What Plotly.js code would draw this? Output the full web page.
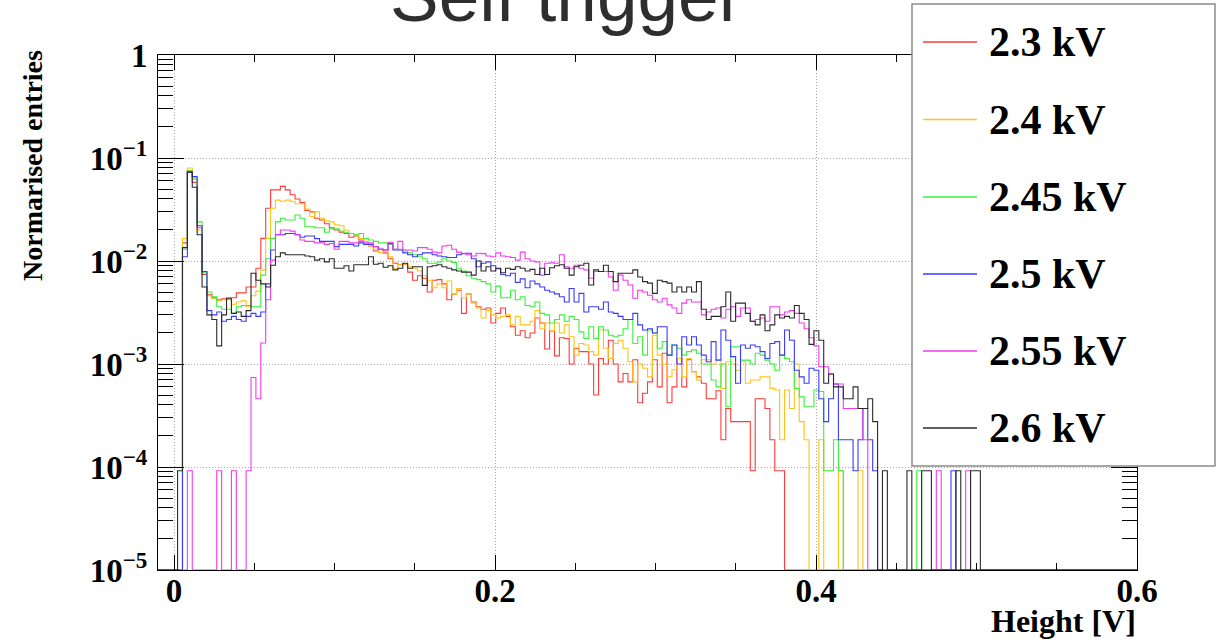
<!DOCTYPE html>
<html>
<head>
<meta charset="utf-8">
<script src="https://cdn.plot.ly/plotly-3.0.1.min.js"></script>
<style>
  html, body { margin: 0; padding: 0; background: #fff; }
  #chart { width: 1217px; height: 642px; }
</style>
</head>
<body>
<div id="chart"></div>
<script>
// Histogram binning: 200 equal bins from -0.01 V to 0.6 V
const histLow = -0.01;
const histHigh = 0.6;
const nBins = 200;
// The arrays below hold normalised bin contents starting at this bin; other bins are empty
const firstBin = 4;

const seriesNames = ['2.3 kV', '2.4 kV', '2.45 kV', '2.5 kV', '2.55 kV', '2.6 kV'];

const h2p3 = [
  0, 1.5e-2, 7.5e-2, 5.8e-2, 2.1e-2, 7.4e-3, 4.7e-3, 4.4e-3, 4.2e-3, 4.3e-3,
  4.4e-3, 4.4e-3, 4.9e-3, 4.9e-3, 5.6e-3, 5.6e-3, 8.5e-3, 1.66e-2, 3.25e-2, 4.9e-2,
  4.9e-2, 5.3e-2, 4.9e-2, 4.4e-2, 4.0e-2, 3.7e-2, 3.1e-2, 3.0e-2, 2.6e-2, 2.5e-2,
  2.3e-2, 2.1e-2, 2.0e-2, 1.9e-2, 1.85e-2, 1.7e-2, 1.75e-2, 1.6e-2, 1.45e-2, 1.4e-2,
  1.25e-2, 1.3e-2, 1.2e-2, 1.05e-2, 9.5e-3, 9.2e-3, 9.3e-3, 7.8e-3, 6.5e-3, 7.2e-3,
  6.8e-3, 5.0e-3, 6.5e-3, 6.6e-3, 6.0e-3, 4.2e-3, 4.8e-3, 5.2e-3, 3.1e-3, 4.8e-3,
  4.0e-3, 3.6e-3, 3.4e-3, 3.5e-3, 2.5e-3, 3.1e-3, 3.5e-3, 2.9e-3, 2.3e-3, 1.9e-3,
  2.1e-3, 1.8e-3, 2.0e-3, 2.8e-3, 2.5e-3, 1.4e-3, 2.1e-3, 1.2e-3, 1.8e-3, 1.77e-3,
  1.0e-3, 1.42e-3, 1.32e-3, 1.32e-3, 1.0e-3, 5.0e-4, 1.13e-3, 1.0e-3, 1.7e-3, 1.0e-3,
  6.7e-4, 8.1e-4, 6.7e-4, 1.1e-3, 4.2e-4, 5.2e-4, 6.7e-4, 1.1e-3, 6.0e-4, 1.27e-3,
  4.2e-4, 6.0e-4, 1.13e-3, 6.0e-4, 1.1e-3, 8.4e-4, 7.5e-4, 6.5e-4, 4.6e-4, 4.6e-4,
  5.5e-4, 1.84e-4, 3.7e-4, 2.76e-4, 2.76e-4, 2.76e-4, 2.76e-4, 9.2e-5, 4.6e-4, 4.6e-4,
  3.7e-4, 1.84e-4, 9.2e-5, 9.2e-5
];

const h2p4 = [
  0, 1.65e-2, 8.0e-2, 6.2e-2, 2.0e-2, 7.6e-3, 4.6e-3, 4.3e-3, 4.1e-3, 4.2e-3,
  4.2e-3, 3.8e-3, 4.0e-3, 4.1e-3, 3.6e-3, 4.6e-3, 5.1e-3, 8.2e-3, 1.66e-2, 3.25e-2,
  3.9e-2, 3.8e-2, 3.9e-2, 3.8e-2, 3.6e-2, 3.6e-2, 3.2e-2, 2.7e-2, 3.0e-2, 2.6e-2,
  2.45e-2, 2.4e-2, 2.25e-2, 2.2e-2, 2.0e-2, 1.85e-2, 1.8e-2, 1.65e-2, 1.55e-2, 1.4e-2,
  1.3e-2, 1.2e-2, 1.25e-2, 1.1e-2, 8.5e-3, 9.3e-3, 9.3e-3, 8.8e-3, 8.5e-3, 8.0e-3,
  7.2e-3, 6.5e-3, 5.5e-3, 6.0e-3, 5.5e-3, 6.4e-3, 4.8e-3, 5.4e-3, 4.4e-3, 4.8e-3,
  3.9e-3, 3.5e-3, 2.8e-3, 3.3e-3, 3.0e-3, 2.8e-3, 2.9e-3, 3.0e-3, 2.4e-3, 2.9e-3,
  2.4e-3, 2.4e-3, 2.6e-3, 3.3e-3, 2.2e-3, 2.5e-3, 2.1e-3, 2.5e-3, 2.0e-3, 2.4e-3,
  1.84e-3, 1.22e-3, 1.58e-3, 1.53e-3, 1.32e-3, 1.22e-3, 2.14e-3, 1.42e-3, 1.13e-3, 1.58e-3,
  1.7e-3, 1.42e-3, 1.05e-3, 6.7e-4, 1.0e-3, 9.1e-4, 7.5e-4, 1.9e-3, 1.22e-3, 1.0e-3,
  7.5e-4, 8.8e-4, 1.13e-3, 7.5e-4, 1.13e-3, 8.4e-4, 7.0e-4, 1.1e-3, 1.1e-3, 1.0e-3,
  1.1e-3, 5.8e-4, 1.05e-3, 1.0e-3, 8.7e-4, 1.05e-3, 6.5e-4, 7.0e-4, 7.0e-4, 7.5e-4,
  7.5e-4, 5.8e-4, 5.6e-4, 1.84e-4, 5.6e-4, 3.7e-4, 1.0e-3, 2.76e-4, 1.84e-4, 0,
  0, 1.84e-4, 0, 0, 0, 9.2e-5, 0, 0, 0, 9.2e-5
];

const h2p45 = [
  0, 1.3e-2, 7.5e-2, 6.4e-2, 2.4e-2, 7.8e-3, 5.0e-3, 4.5e-3, 3.6e-3, 3.4e-3,
  3.4e-3, 3.1e-3, 3.6e-3, 3.7e-3, 3.7e-3, 3.6e-3, 3.6e-3, 7.3e-3, 1.05e-2, 1.66e-2,
  2.4e-2, 2.6e-2, 2.5e-2, 2.5e-2, 2.8e-2, 2.6e-2, 2.15e-2, 2.15e-2, 2.1e-2, 2.1e-2,
  1.9e-2, 2.05e-2, 2.05e-2, 1.95e-2, 1.9e-2, 1.85e-2, 1.8e-2, 1.85e-2, 1.65e-2, 1.6e-2,
  1.55e-2, 1.5e-2, 1.5e-2, 1.45e-2, 1.3e-2, 1.3e-2, 1.25e-2, 1.2e-2, 1.15e-2, 1.1e-2,
  1.05e-2, 9.5e-3, 9.5e-3, 9.8e-3, 1.05e-2, 1.0e-2, 9.7e-3, 8.5e-3, 8.0e-3, 7.2e-3,
  6.8e-3, 6.6e-3, 6.3e-3, 6.0e-3, 5.0e-3, 5.7e-3, 4.4e-3, 4.4e-3, 5.2e-3, 4.2e-3,
  4.5e-3, 3.7e-3, 3.6e-3, 4.0e-3, 3.1e-3, 3.0e-3, 2.5e-3, 2.7e-3, 3.0e-3, 2.6e-3,
  2.9e-3, 2.7e-3, 2.05e-3, 1.77e-3, 2.3e-3, 1.77e-3, 2.3e-3, 2.14e-3, 1.9e-3, 1.84e-3,
  1.9e-3, 2.2e-3, 2.7e-3, 1.58e-3, 1.84e-3, 1.22e-3, 2.14e-3, 2.0e-3, 1.42e-3, 1.65e-3,
  1.22e-3, 1.53e-3, 1.42e-3, 1.22e-3, 1.32e-3, 1.37e-3, 1.27e-3, 1.0e-3, 1.0e-3, 7.0e-4,
  6.0e-4, 1.0e-3, 3.85e-4, 1.47e-3, 1.47e-3, 1.09e-3, 1.09e-3, 1.0e-3, 1.27e-3, 1.22e-3,
  1.09e-3, 1.0e-3, 8.7e-4, 1.22e-3, 1.13e-3, 1.05e-3, 5.8e-4, 4.8e-4, 3.85e-4, 3.85e-4,
  5.6e-4, 5.4e-4, 9.2e-5, 9.2e-5, 1.84e-4, 9.2e-5, 0, 0, 0, 0,
  0, 0, 0, 0, 0, 0, 0, 0, 0, 0,
  0, 9.2e-5
];

const h2p5 = [
  0, 1.1e-2, 7.3e-2, 6.6e-2, 2.2e-2, 7.9e-3, 3.3e-3, 3.0e-3, 3.2e-3, 2.6e-3,
  2.7e-3, 2.9e-3, 2.7e-3, 2.6e-3, 2.9e-3, 3.1e-3, 2.9e-3, 3.2e-3, 6.0e-3, 1.28e-2,
  1.8e-2, 1.8e-2, 1.85e-2, 1.85e-2, 1.8e-2, 1.7e-2, 1.75e-2, 1.75e-2, 1.65e-2, 1.55e-2,
  1.55e-2, 1.55e-2, 1.38e-2, 1.45e-2, 1.45e-2, 1.45e-2, 1.4e-2, 1.5e-2, 1.45e-2, 1.45e-2,
  1.38e-2, 1.3e-2, 1.28e-2, 1.48e-2, 1.28e-2, 1.28e-2, 1.2e-2, 1.15e-2, 1.1e-2, 1.15e-2,
  1.2e-2, 1.2e-2, 1.15e-2, 1.12e-2, 1.1e-2, 1.08e-2, 1.08e-2, 1.15e-2, 1.18e-2, 1.19e-2,
  1.05e-2, 8.8e-3, 9.5e-3, 9.8e-3, 9.0e-3, 8.4e-3, 7.4e-3, 7.2e-3, 7.6e-3, 6.2e-3,
  6.7e-3, 5.5e-3, 6.4e-3, 6.0e-3, 5.6e-3, 5.2e-3, 5.0e-3, 4.8e-3, 4.5e-3, 4.0e-3,
  5.4e-3, 4.0e-3, 4.85e-3, 3.2e-3, 3.6e-3, 3.6e-3, 3.4e-3, 4.0e-3, 3.2e-3, 3.1e-3,
  2.9e-3, 2.7e-3, 2.7e-3, 3.1e-3, 2.4e-3, 2.14e-3, 2.2e-3, 2.0e-3, 2.3e-3, 2.3e-3,
  1.22e-3, 1.53e-3, 1.0e-3, 1.84e-3, 1.53e-3, 1.84e-3, 1.53e-3, 1.22e-3, 1.05e-3, 1.65e-3,
  1.09e-3, 2.14e-3, 1.7e-3, 1.18e-3, 6.5e-4, 1.53e-3, 1.42e-3, 1.53e-3, 1.47e-3, 1.32e-3,
  1.13e-3, 1.58e-3, 1.65e-3, 1.22e-3, 2.14e-3, 1.7e-3, 8.7e-4, 7.5e-4, 6.5e-4, 9.1e-4,
  8.7e-4, 4.6e-4, 2.76e-4, 4.6e-4, 6.4e-4, 1.84e-4, 1.84e-4, 1.84e-4, 9.2e-5, 1.84e-4,
  3.7e-4, 1.84e-4, 9.2e-5, 0, 0, 0, 0, 0, 0, 0,
  0, 0, 0, 0, 0, 0, 0, 0, 9.2e-5
];

const h2p55 = [
  0, 0, 9.2e-5, 0, 0, 0, 0, 0, 9.2e-5, 0,
  0, 9.2e-5, 0, 0, 9.2e-5, 7.4e-4, 4.6e-4, 1.6e-3, 4.2e-3, 1.02e-2,
  1.8e-2, 2.0e-2, 2.0e-2, 1.95e-2, 1.8e-2, 1.6e-2, 1.55e-2, 1.55e-2, 1.5e-2, 1.5e-2,
  1.45e-2, 1.48e-2, 1.3e-2, 1.55e-2, 1.55e-2, 1.5e-2, 1.5e-2, 1.55e-2, 1.5e-2, 1.5e-2,
  1.38e-2, 1.3e-2, 1.28e-2, 1.52e-2, 1.3e-2, 1.55e-2, 1.28e-2, 1.28e-2, 1.25e-2, 1.35e-2,
  1.35e-2, 1.3e-2, 1.22e-2, 1.2e-2, 1.4e-2, 1.42e-2, 1.3e-2, 1.22e-2, 1.19e-2, 1.15e-2,
  1.12e-2, 1.19e-2, 1.18e-2, 1.12e-2, 1.1e-2, 1.2e-2, 1.12e-2, 1.1e-2, 1.08e-2, 1.02e-2,
  1.22e-2, 1.05e-2, 1.0e-2, 9.8e-3, 7.3e-3, 9.5e-3, 9.6e-3, 9.5e-3, 1.15e-2, 8.8e-3,
  8.5e-3, 9.1e-3, 8.5e-3, 8.2e-3, 6.8e-3, 7.9e-3, 7.9e-3, 7.9e-3, 7.0e-3, 5.2e-3,
  7.3e-3, 6.5e-3, 5.85e-3, 4.35e-3, 5.2e-3, 5.0e-3, 4.65e-3, 4.2e-3, 4.0e-3, 4.35e-3,
  3.75e-3, 3.5e-3, 3.1e-3, 3.9e-3, 4.2e-3, 4.0e-3, 4.0e-3, 3.0e-3, 3.2e-3, 3.4e-3,
  3.5e-3, 2.8e-3, 3.4e-3, 3.6e-3, 2.9e-3, 3.5e-3, 3.5e-3, 2.6e-3, 2.7e-3, 2.8e-3,
  2.6e-3, 3.6e-3, 3.6e-3, 3.0e-3, 3.2e-3, 3.3e-3, 3.1e-3, 2.5e-3, 2.2e-3, 1.8e-3,
  1.5e-3, 9.4e-4, 9.4e-4, 8.0e-4, 6.4e-4, 6.4e-4, 3.7e-4, 3.7e-4, 3.7e-4, 3.7e-4,
  1.84e-4, 0, 0, 0, 0, 0, 0, 0, 0, 0,
  0, 0, 0, 0, 0, 9.2e-5, 0, 0, 0, 0,
  0, 9.2e-5
];

const h2p6 = [
  9.2e-5, 1.35e-2, 7.3e-2, 5.2e-2, 1.8e-2, 5.6e-3, 3.0e-3, 2.7e-3, 1.5e-3, 3.0e-3,
  4.3e-3, 3.1e-3, 3.2e-3, 2.9e-3, 3.3e-3, 7.6e-3, 6.5e-3, 6.0e-3, 5.6e-3, 9.1e-3,
  1.1e-2, 1.2e-2, 1.15e-2, 1.15e-2, 1.15e-2, 1.15e-2, 1.12e-2, 1.1e-2, 1.02e-2, 1.05e-2,
  9.8e-3, 1.05e-2, 8.5e-3, 8.5e-3, 9.0e-3, 8.0e-3, 9.2e-3, 9.2e-3, 9.2e-3, 1.1e-2,
  9.3e-3, 9.5e-3, 8.7e-3, 9.0e-3, 8.2e-3, 8.5e-3, 9.5e-3, 8.5e-3, 8.8e-3, 8.8e-3,
  5.8e-3, 8.8e-3, 9.0e-3, 9.2e-3, 8.8e-3, 8.5e-3, 8.2e-3, 8.0e-3, 7.8e-3, 7.8e-3,
  7.3e-3, 1.0e-2, 8.0e-3, 8.8e-3, 8.0e-3, 8.5e-3, 7.7e-3, 8.5e-3, 8.3e-3, 8.8e-3,
  8.5e-3, 8.0e-3, 8.3e-3, 7.4e-3, 8.5e-3, 7.4e-3, 8.6e-3, 9.0e-3, 9.2e-3, 8.5e-3,
  7.3e-3, 8.8e-3, 9.1e-3, 9.5e-3, 5.85e-3, 8.2e-3, 7.9e-3, 9.1e-3, 7.9e-3, 6.3e-3,
  7.6e-3, 7.6e-3, 7.6e-3, 8.2e-3, 7.0e-3, 6.3e-3, 6.1e-3, 4.85e-3, 6.5e-3, 6.3e-3,
  6.1e-3, 5.0e-3, 5.6e-3, 5.0e-3, 5.6e-3, 5.0e-3, 6.3e-3, 3.4e-3, 2.7e-3, 2.9e-3,
  2.9e-3, 3.6e-3, 5.0e-3, 2.6e-3, 3.9e-3, 3.9e-3, 3.1e-3, 2.6e-3, 2.4e-3, 3.0e-3,
  2.1e-3, 2.4e-3, 3.0e-3, 2.8e-3, 2.9e-3, 2.8e-3, 3.7e-3, 3.1e-3, 2.7e-3, 1.55e-3,
  2.1e-3, 1.7e-3, 6.5e-4, 8.0e-4, 6.0e-4, 6.0e-4, 4.6e-4, 4.6e-4, 6.0e-4, 3.7e-4,
  3.7e-4, 4.6e-4, 2.76e-4, 0, 9.2e-5, 0, 0, 0, 0, 9.2e-5,
  0, 0, 9.2e-5, 9.2e-5, 0, 0, 0, 0, 0, 9.2e-5,
  0, 0, 9.2e-5, 9.2e-5
];

const seriesValues = [h2p3, h2p4, h2p45, h2p5, h2p55, h2p6];
const seriesColors = ['#ff3b3b', '#ffc31a', '#3cf03c', '#3b3bff', '#f03cf0', '#2a2a2a'];

// Axis
const yMin = 1e-5, yMax = 1;
const xTicks = [0, 0.2, 0.4, 0.6];
const xTickText = ['0', '0.2', '0.4', '0.6'];
const yTicks = [1e-5, 1e-4, 1e-3, 1e-2, 1e-1, 1];
const yTickText = ['10<sup>\u22125</sup>', '10<sup>\u22124</sup>', '10<sup>\u22123</sup>',
                   '10<sup>\u22122</sup>', '10<sup>\u22121</sup>', '1'];

// Frame geometry in page pixels
const W = 1217, H = 642;
const FL = 158, FR = 1137, FT = 55, FB = 570;
const pxX = v => (v - FL) / (FR - FL);
const pxY = v => (FB - v) / (FB - FT);

const serif = 'Liberation Serif, Times New Roman, serif';

// Step outline in ROOT style: empty bins sit on the bottom of the frame
function stepTrace(values, color) {
  const w = (histHigh - histLow) / nBins;
  const x = [], y = [];
  for (let b = 0; b < nBins; b++) {
    const i = b - firstBin;
    const v = (i >= 0 && i < values.length) ? values[i] : 0;
    x.push(histLow + b * w);
    y.push(v > 0 ? v : yMin);
  }
  x.push(histHigh);
  y.push(y[y.length - 1]);
  return {
    type: 'scatter', mode: 'lines', x: x, y: y,
    line: { color: color, width: 1.1, shape: 'hv' },
    hoverinfo: 'skip', showlegend: false
  };
}

const traces = seriesValues.map((v, i) => stepTrace(v, seriesColors[i]));

// Log-axis minor ticks at 2..9 of every decade
const yMinor = [];
for (let e = -5; e < 0; e++) for (let k = 2; k <= 9; k++) yMinor.push(k * Math.pow(10, e));

// Legend box drawn on top of the frame
const legendRows = [42, 119.5, 197, 274, 351, 428];
const shapes = [{
  type: 'rect', xref: 'paper', yref: 'paper', layer: 'above',
  x0: pxX(912), x1: pxX(1215), y0: pxY(466), y1: pxY(4),
  line: { color: '#8c8c8c', width: 1.5 }, fillcolor: '#ffffff'
}];
const annotations = [];
seriesNames.forEach((name, i) => {
  shapes.push({
    type: 'line', xref: 'paper', yref: 'paper', layer: 'above',
    x0: pxX(923), x1: pxX(977), y0: pxY(legendRows[i]), y1: pxY(legendRows[i]),
    line: { color: seriesColors[i], width: 1.3 }
  });
  annotations.push({
    xref: 'paper', yref: 'paper', x: pxX(987), y: pxY(legendRows[i]),
    xanchor: 'left', yanchor: 'middle', showarrow: false, text: name,
    font: { family: serif, size: 42, weight: 'bold', color: '#000' }
  });
});

// Title, partly above the page edge
annotations.push({
  xref: 'paper', yref: 'paper', x: pxX(566), y: pxY(38), xanchor: 'center', yanchor: 'bottom',
  showarrow: false, text: 'Self trigger',
  font: { family: 'Liberation Sans, Arial, sans-serif', size: 73, color: '#2e2e2e' }
});
// Axis titles, aligned to the axis ends
annotations.push({
  xref: 'paper', yref: 'paper', x: pxX(32), y: pxY(166), xanchor: 'center', yanchor: 'middle',
  textangle: -90, showarrow: false, text: 'Normarised entries',
  font: { family: serif, size: 28, weight: 'bold', color: '#000' }
});
annotations.push({
  xref: 'paper', yref: 'paper', x: pxX(1138), y: pxY(621), xanchor: 'right', yanchor: 'middle',
  showarrow: false, text: 'Height [V]',
  font: { family: serif, size: 32, weight: 'bold', color: '#000' }
});

const tickFont = { family: serif, size: 33, weight: 'bold', color: '#000' };
const gridStyle = { showgrid: true, gridcolor: '#a8a8a8', griddash: '1px,2px', gridwidth: 1 };

const layout = {
  width: W, height: H,
  margin: { l: FL, r: W - FR, t: FT, b: H - FB, pad: 0 },
  paper_bgcolor: '#ffffff', plot_bgcolor: '#ffffff',
  showlegend: false,
  xaxis: Object.assign({
    range: [histLow, histHigh], tickmode: 'array', tickvals: xTicks, ticktext: xTickText,
    ticks: 'inside', ticklen: 15, tickwidth: 1, tickcolor: '#000',
    showline: true, linecolor: '#000', linewidth: 1, mirror: 'ticks', zeroline: false,
    tickfont: tickFont, ticklabelstandoff: -9,
    minor: { dtick: 0.05, tick0: 0, ticks: 'inside', ticklen: 7, tickcolor: '#000', showgrid: false },
    fixedrange: true
  }, gridStyle),
  yaxis: Object.assign({
    type: 'log', range: [Math.log10(yMin), Math.log10(yMax)],
    tickmode: 'array', tickvals: yTicks, ticktext: yTickText,
    ticks: 'inside', ticklen: 26, tickwidth: 1, tickcolor: '#000',
    showline: true, linecolor: '#000', linewidth: 1, mirror: 'ticks', zeroline: false,
    tickfont: tickFont, ticklabelstandoff: 3,
    minor: { tickmode: 'array', tickvals: yMinor, ticks: 'inside', ticklen: 15, tickcolor: '#000', showgrid: false },
    fixedrange: true
  }, gridStyle),
  shapes: shapes,
  annotations: annotations
};

Plotly.newPlot('chart', traces, layout, { staticPlot: true, displayModeBar: false });
</script>
</body>
</html>
